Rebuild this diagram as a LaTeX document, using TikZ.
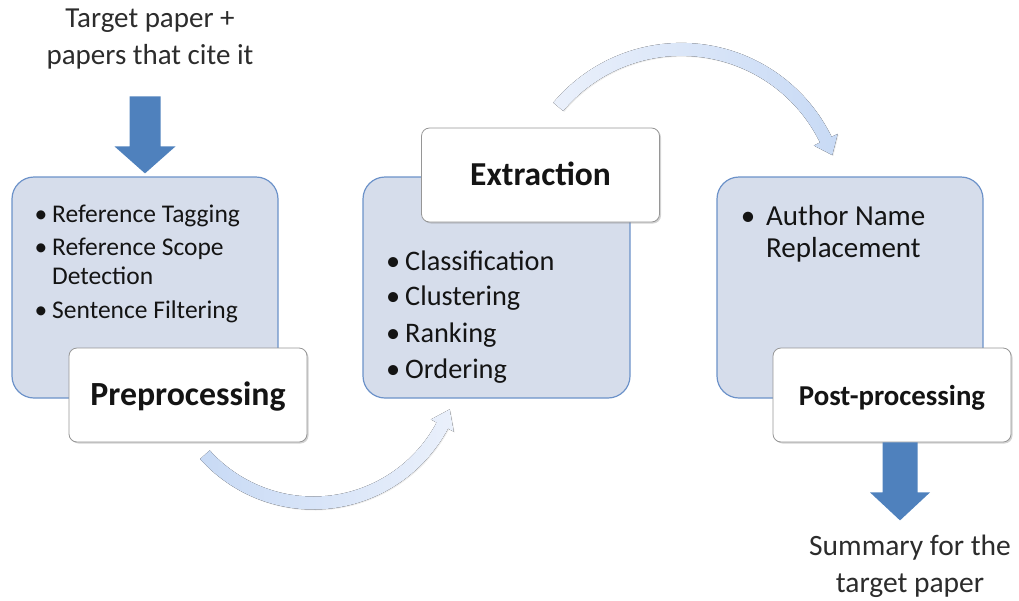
\documentclass[tikz,border=0pt]{standalone}
\usepackage{fontspec}
\setmainfont{Carlito}
\usetikzlibrary{shadows,calc}

\definecolor{stepblue}{RGB}{79,129,189}
\definecolor{panelfill}{RGB}{214,221,235}
\definecolor{paneledge}{RGB}{108,146,201}
\definecolor{labeledge}{RGB}{150,150,150}
\definecolor{flowA}{RGB}{200,218,245}
\definecolor{flowB}{RGB}{234,240,251}
\definecolor{ink}{RGB}{20,20,20}

\begin{document}
\begin{tikzpicture}[x=1pt,y=-1pt,
  panel/.style={draw=paneledge, line width=1.2pt, fill=panelfill,
    rounded corners=22pt, inner sep=0pt},
  stage/.style={draw=labeledge, line width=0.8pt, fill=white,
    rounded corners=8pt, inner sep=0pt, text=ink,
    text height=25pt, text depth=5pt,
    drop shadow={shadow xshift=1.5pt, shadow yshift=-1.5pt, opacity=0.35},
    minimum width=238pt, minimum height=94pt},
  item/.style={anchor=base west, inner sep=0pt, text=ink},
  caption/.style={align=center, inner sep=0pt, text=ink!90},
  feed/.style={fill=stepblue},
  flow/.style={drop shadow={shadow xshift=1pt, shadow yshift=-1pt, opacity=0.15}},
]
\useasboundingbox (0,0) rectangle (1019,600);

% three stage panels
\node[panel, minimum width=266pt, minimum height=221pt] (p1) at (145,287.5) {};
\node[panel, minimum width=267pt, minimum height=221pt] (p2) at (496.5,287.5) {};
\node[panel, minimum width=266pt, minimum height=221pt] (p3) at (850,287.5) {};

% panel contents
\newcommand\blt[1]{\llap{\textbullet\hspace{#1}}}
\begin{scope}[font=\fontsize{25.5}{30}\selectfont]
  \node[item] (a1) at (52,222.7) {\blt{5pt}Reference Tagging};
  \node[item] (a2) at (52,255) {\blt{5pt}Reference Scope};
  \node[item] (a3) at (52,284) {Detection};
  \node[item] (a4) at (52,318) {\blt{5pt}Sentence Filtering};
\end{scope}
\begin{scope}[font=\fontsize{28.3}{33}\selectfont]
  \node[item] (b1) at (405,270) {\blt{5pt}Classification};
  \node[item] (b2) at (405,305) {\blt{5pt}Clustering};
  \node[item] (b3) at (405,342) {\blt{5pt}Ranking};
  \node[item] (b4) at (405,378) {\blt{5pt}Ordering};
\end{scope}
\begin{scope}[font=\fontsize{29}{34}\selectfont]
  \node[item] (c1t) at (766,225) {\blt{11pt}Author Name};
  \node[item] (c2t) at (766,257) {Replacement};
\end{scope}

% curved flow arrows between stages
\coordinate (k1) at (313.4,357);
\coordinate (k2) at (681.3,210.1);
\fill[flow, left color=flowA, right color=flowB]
  ([shift={(138:152.5)}]k1) arc[start angle=138, end angle=28, radius=152.5]
  -- ([shift={(28:159)}]k1) -- ([shift={(21:146)}]k1) -- ([shift={(28:133)}]k1)
  -- ([shift={(28:139.5)}]k1) arc[start angle=28, end angle=138, radius=139.5]
  -- cycle;
\fill[flow, left color=flowB, right color=flowA]
  ([shift={(-140:167.2)}]k2) arc[start angle=-140, end angle=-26, radius=167.2]
  -- ([shift={(-26:174)}]k2) -- ([shift={(-20:160.7)}]k2) -- ([shift={(-26:147.4)}]k2)
  -- ([shift={(-26:154.2)}]k2) arc[start angle=-26, end angle=-140, radius=154.2]
  -- cycle;

% stage titles
\node[stage, font=\bfseries\fontsize{33.8}{38}\selectfont] (pre) at (188,395) {Preprocessing};
\node[stage, font=\bfseries\fontsize{33.5}{38}\selectfont] (ext) at (540.5,175) {Extraction};
\node[stage, font=\bfseries\fontsize{28.8}{34}\selectfont] (post) at (892,395) {Post-processing};

% input and output
\node[caption, font=\fontsize{29}{37}\selectfont] (src) at (150,39.5) {Target paper +\\papers that cite it};
\node[caption, font=\fontsize{29.5}{37}\selectfont] (sum) at (910,566.5) {Summary for the\\target paper};

\coordinate (intip) at ([yshift=3pt]p1.north);
\fill[feed] (intip) -- ++(-30.5,-27) -- ++(15,0) -- ++(0,-50) -- ++(31,0)
  -- ++(0,50) -- ++(15,0) -- cycle;
\coordinate (outtop) at ([xshift=8pt]post.south);
\fill[feed] (outtop) ++(-17.5,0) -- ++(0,50) -- ++(-12.5,0) -- ++(30,28)
  -- ++(30,-28) -- ++(-12.5,0) -- ++(0,-50) -- cycle;
\end{tikzpicture}
\end{document}
